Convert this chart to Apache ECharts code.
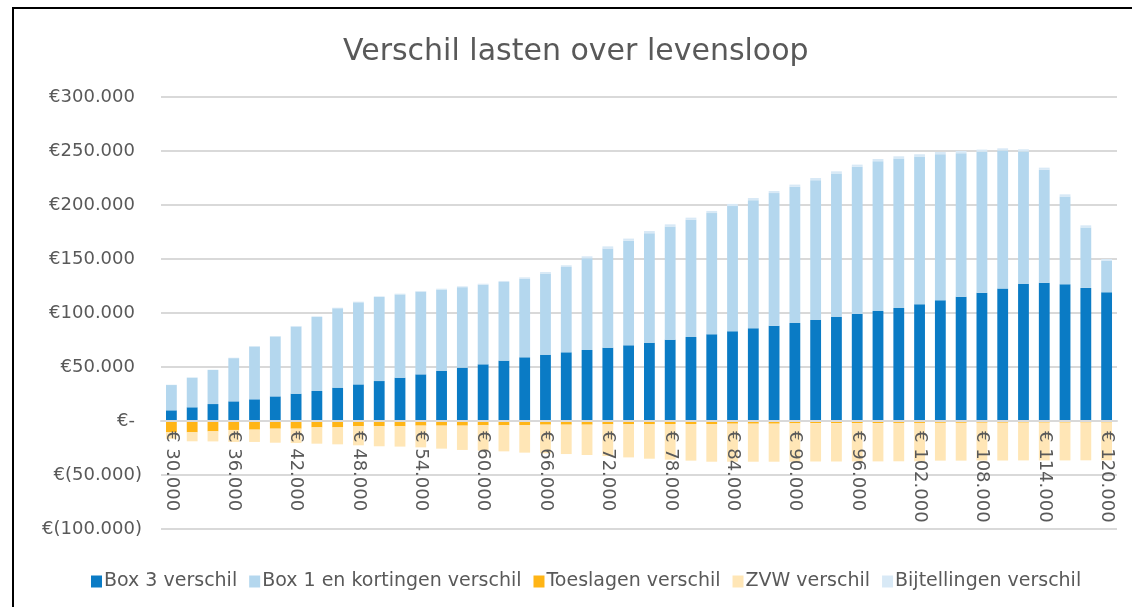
<!DOCTYPE html>
<html>
<head>
<meta charset="utf-8">
<script src="https://cdn.jsdelivr.net/npm/echarts@6/dist/echarts.min.js"></script>
<style>
html,body{margin:0;padding:0;background:#fff;}
#c{width:1132px;height:607px;}
</style>
</head>
<body>
<div id="c"></div>
<script>
const categories = ["€ 30.000","€ 32.000","€ 34.000","€ 36.000","€ 38.000","€ 40.000","€ 42.000","€ 44.000","€ 46.000","€ 48.000",
"€ 50.000","€ 52.000","€ 54.000","€ 56.000","€ 58.000","€ 60.000","€ 62.000","€ 64.000","€ 66.000","€ 68.000",
"€ 70.000","€ 72.000","€ 74.000","€ 76.000","€ 78.000","€ 80.000","€ 82.000","€ 84.000","€ 86.000","€ 88.000",
"€ 90.000","€ 92.000","€ 94.000","€ 96.000","€ 98.000","€ 100.000","€ 102.000","€ 104.000","€ 106.000","€ 108.000",
"€ 110.000","€ 112.000","€ 114.000","€ 116.000","€ 118.000","€ 120.000"];

const box3 = [9900,12700,15700,18200,20100,22800,25300,27800,30900,33900,
37000,40100,43200,46300,49400,52500,55900,59000,61400,63600,
65800,67900,70100,72500,75300,77800,80300,83000,85800,88300,
90800,93500,96300,99100,101900,104600,108000,111700,115100,118800,
122600,126900,128100,126600,123200,119200];

const box1 = [23400,27400,31500,40000,48900,55500,62200,68600,73500,76000,
77800,77100,76500,75400,74500,73700,72800,72800,75200,79000,
84900,91800,96800,101400,104800,108500,112200,116000,118700,122700,
126100,129500,132900,136300,138700,138500,137000,135400,132900,130500,
127900,122700,104500,81300,56000,29000];

const toeslagen = [-10500,-10500,-9600,-8300,-8000,-7100,-7100,-5900,-5900,-4900,
-4900,-4900,-4300,-4300,-4300,-4000,-4000,-3700,-3400,-3400,
-3400,-3100,-3100,-3100,-2800,-2800,-2800,-2500,-2500,-2500,
-2200,-2000,-2000,-1900,-1900,-1800,-1800,-1700,-1700,-1600,
-1600,-1500,-1500,-1500,-1400,-1400];

const zvw = [-6000,-8300,-9300,-11100,-11400,-13000,-13300,-15100,-15700,-17600,
-18500,-18800,-20100,-21300,-22500,-23500,-24100,-25600,-26500,-27200,
-28100,-29300,-30600,-31800,-33000,-33900,-34900,-35200,-35200,-35200,
-35500,-35500,-35500,-35500,-35500,-35500,-35500,-35000,-35000,-35000,
-35000,-35000,-35000,-35000,-35000,-35000];

const bijtellingen = [300,300,300,400,400,400,500,500,500,600,
600,700,700,800,800,900,1000,1200,1400,1600,
1800,2000,2000,2000,2000,2000,2000,2000,2000,2000,
2000,2000,2000,2000,2000,2000,2000,2000,2000,2000,
2000,2000,2000,2000,2000,1800];

const seriesNames = ["Box 3 verschil","Box 1 en kortingen verschil","Toeslagen verschil","ZVW verschil","Bijtellingen verschil"];
const colors = ["#0A7BC5","#B4D7EE","#FFB516","#FFE6B6","#D8E9F6"];

function fmtNum(v){
  return String(Math.abs(v)).replace(/\B(?=(\d{3})+(?!\d))/g, ".");
}
function yLabel(v){
  if (v === 0) return "€-{t|)}";
  if (v < 0) return "€(" + fmtNum(v) + ")";
  return "€" + fmtNum(v) + "{t|)}";
}

const FONT = "DejaVu Sans";
const chart = echarts.init(document.getElementById('c'), null, {renderer:'canvas'});
const dataArr = [box3, box1, toeslagen, zvw, bijtellingen];

chart.setOption({
  animation:false,
  backgroundColor:'#ffffff',
  title:{
    text:'Verschil lasten over levensloop',
    left:338, top:32,
    textStyle:{fontFamily:FONT, fontSize:30, fontWeight:'normal', color:'#595959'}
  },
  legend:{
    left:86, top:567,
    icon:'rect', itemWidth:11, itemHeight:12, itemGap:12,
    textStyle:{fontFamily:FONT, fontSize:19, color:'#595959', padding:[0,0,0,-3]},
    data:seriesNames
  },
  grid:{left:161, right:15, top:97, bottom:78, containLabel:false, outerBoundsMode:'none'},
  xAxis:{
    type:'category',
    data:categories,
    z:10,
    offset:-108,
    axisLine:{onZero:false, lineStyle:{color:'#D9D9D9', width:2}},
    axisTick:{show:false},
    axisLabel:{
      interval:2, rotate:-90, margin:10,
      fontFamily:FONT, fontSize:18, color:'#595959'
    }
  },
  yAxis:{
    type:'value',
    min:-100000, max:300000, interval:50000,
    axisLine:{show:false},
    axisTick:{show:false},
    splitLine:{lineStyle:{color:'#D9D9D9', width:2}},
    axisLabel:{
      margin:19, fontFamily:FONT, fontSize:18, color:'#595959',
      formatter:yLabel,
      rich:{t:{color:'rgba(0,0,0,0)', fontFamily:FONT, fontSize:18}}
    }
  },
  series: seriesNames.map((n,i)=>({
    name:n, type:'bar', stack:'total',
    barWidth:'52%',
    itemStyle:{color:colors[i]},
    emphasis:{disabled:true},
    data:dataArr[i]
  })),
  graphic:[
    {type:'polyline', silent:true, z:100,
     shape:{points:[[13,607],[13,8],[1132,8]]},
     style:{stroke:'#000', lineWidth:2, fill:null}}
  ]
});
</script>
</body>
</html>
